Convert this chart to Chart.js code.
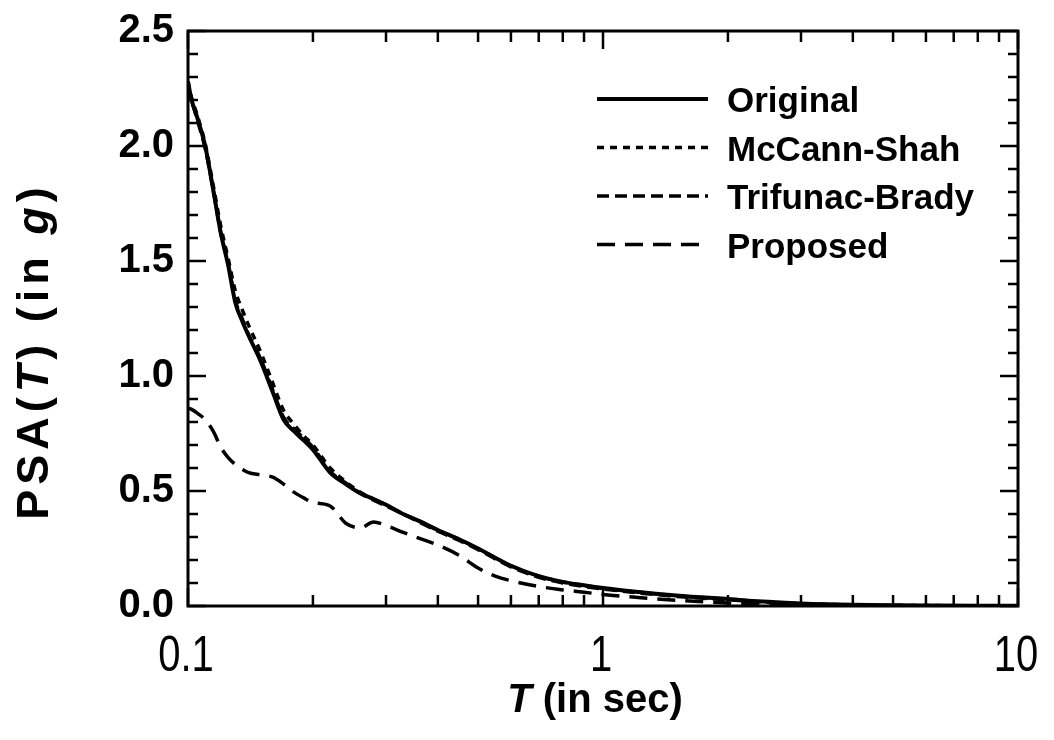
<!DOCTYPE html>
<html><head><meta charset="utf-8">
<script src="https://cdn.jsdelivr.net/npm/chart.js@4.4.1/dist/chart.umd.min.js"></script>
<style>html,body{margin:0;padding:0;background:#fff;overflow:hidden}#wrap{width:1054px;height:740px}</style>
</head><body><div id="wrap"><canvas id="c" width="1054" height="740"></canvas></div>
<script>
const periods = [0.1, 0.102, 0.105, 0.11, 0.115, 0.12, 0.125, 0.13, 0.135, 0.14, 0.15, 0.16, 0.17, 0.18, 0.19, 0.2, 0.22, 0.24, 0.26, 0.28, 0.3, 0.33, 0.36, 0.4, 0.45, 0.5, 0.55, 0.6, 0.7, 0.8, 0.9, 1.0, 1.2, 1.5, 2, 2.5, 3, 4, 5, 6, 8, 10];
const original = [2.28, 2.20, 2.13, 2.00, 1.81, 1.62, 1.48, 1.32, 1.24, 1.175, 1.06, 0.93, 0.81, 0.76, 0.72, 0.68, 0.58, 0.53, 0.49, 0.465, 0.44, 0.40, 0.37, 0.33, 0.29, 0.25, 0.21, 0.175, 0.13, 0.105, 0.09, 0.078, 0.062, 0.046, 0.03, 0.018, 0.011, 0.005, 0.003, 0.002, 0.001, 0.001];
const mccannShah = [2.28, 2.21, 2.14, 2.01, 1.83, 1.65, 1.51, 1.37, 1.29, 1.22, 1.10, 0.97, 0.85, 0.79, 0.74, 0.70, 0.60, 0.54, 0.495, 0.465, 0.44, 0.40, 0.37, 0.33, 0.29, 0.25, 0.21, 0.175, 0.13, 0.104, 0.089, 0.077, 0.061, 0.045, 0.029, 0.017, 0.010, 0.005, 0.003, 0.002, 0.001, 0.001];
const trifunacBrady = [2.26, 2.20, 2.12, 1.99, 1.81, 1.62, 1.49, 1.33, 1.25, 1.18, 1.07, 0.94, 0.82, 0.77, 0.73, 0.69, 0.585, 0.535, 0.49, 0.46, 0.435, 0.40, 0.365, 0.325, 0.285, 0.245, 0.205, 0.17, 0.125, 0.10, 0.085, 0.074, 0.058, 0.042, 0.027, 0.016, 0.009, 0.004, 0.002, 0.001, 0.001, 0.0];
const proposed = [0.86, 0.855, 0.84, 0.81, 0.76, 0.69, 0.645, 0.615, 0.595, 0.58, 0.57, 0.56, 0.53, 0.495, 0.47, 0.45, 0.435, 0.36, 0.34, 0.365, 0.35, 0.32, 0.295, 0.265, 0.22, 0.165, 0.13, 0.11, 0.085, 0.07, 0.06, 0.05, 0.038, 0.025, 0.013, 0.007, 0.004, 0.002, 0.001, 0.001, 0.001, 0.0];
const seriesLabels = ['Original', 'McCann-Shah', 'Trifunac-Brady', 'Proposed'];
const xMajorTicks = [0.1, 1, 10];
const xTickLabels = ['0.1', '1', '10'];
const xMinorTicks = [0.2, 0.3, 0.4, 0.5, 0.6, 0.7, 0.8, 0.9, 2, 3, 4, 5, 6, 7, 8, 9];
const yMajorTicks = [0, 0.5, 1.0, 1.5, 2.0, 2.5];
const yMinorTicks = [0.1, 0.2, 0.3, 0.4, 0.6, 0.7, 0.8, 0.9, 1.1, 1.2, 1.3, 1.4, 1.6, 1.7, 1.8, 1.9, 2.1, 2.2, 2.3, 2.4];
const xTitle = [['T', true], [' (in sec)', false]];
const yTitle = [['PSA(', false], ['T', true], [') (in ', false], ['g', true], [')', false]];

const toPts = arr => periods.map((t, i) => ({x: t, y: arr[i]}));
const dashes = [[], [7, 6], [12, 6], [18, 10]];
const widths = [4, 3.5, 3.5, 3.5];
const seriesData = [original, mccannShah, trifunacBrady, proposed];

const frameTicks = {
  id: 'frameTicks',
  afterDatasetsDraw(chart) {
    const ctx = chart.ctx, a = chart.chartArea;
    const xs = chart.scales.x, ys = chart.scales.y;
    ctx.save();
    ctx.strokeStyle = '#000';
    ctx.setLineDash([]);
    ctx.lineWidth = 2.5;
    ctx.beginPath();
    const tickY = (v, len) => {
      const p = ys.getPixelForValue(v);
      ctx.moveTo(a.left, p); ctx.lineTo(a.left + len, p);
      ctx.moveTo(a.right, p); ctx.lineTo(a.right - len, p);
    };
    const tickX = (v, len) => {
      const p = xs.getPixelForValue(v);
      ctx.moveTo(p, a.bottom); ctx.lineTo(p, a.bottom - len);
      ctx.moveTo(p, a.top); ctx.lineTo(p, a.top + len);
    };
    yMinorTicks.forEach(v => tickY(v, 10));
    yMajorTicks.forEach(v => tickY(v, 18));
    xMinorTicks.forEach(v => tickX(v, 11));
    xMajorTicks.forEach(v => tickX(v, 18));
    ctx.stroke();
    ctx.lineWidth = 3;
    ctx.strokeRect(a.left, a.top, a.right - a.left, a.bottom - a.top);
    ctx.restore();
  }
};

function drawSegs(ctx, segs, size, cx, baseY) {
  const fontOf = it => (it ? 'italic bold ' : 'bold ') + size + 'px "Liberation Sans", Arial, sans-serif';
  let total = 0;
  const w = segs.map(s => { ctx.font = fontOf(s[1]); const m = ctx.measureText(s[0]).width; total += m; return m; });
  let x = cx - total / 2;
  segs.forEach((s, i) => { ctx.font = fontOf(s[1]); ctx.fillText(s[0], x, baseY); x += w[i]; });
}

const titlesLegend = {
  id: 'titlesLegend',
  afterDraw(chart) {
    const ctx = chart.ctx, a = chart.chartArea;
    const xs = chart.scales.x;
    ctx.save();
    ctx.fillStyle = '#000';
    ctx.textAlign = 'left';
    ctx.textBaseline = 'alphabetic';
    // x tick labels (condensed)
    xMajorTicks.forEach((v, i) => {
      const p = xs.getPixelForValue(v);
      ctx.save();
      ctx.translate(p - 2, 671);
      ctx.scale(0.8, 1);
      ctx.textAlign = 'center';
      ctx.font = '50px "Liberation Sans", Arial, sans-serif';
      ctx.fillText(xTickLabels[i], 0, 0);
      ctx.restore();
    });
    // x title
    drawSegs(ctx, xTitle, 40, (a.left + a.right) / 2 - 8, 712);
    // y title
    ctx.save();
    ctx.translate(48, 351);
    ctx.rotate(-Math.PI / 2);
    try { ctx.letterSpacing = '5px'; } catch (e) {}
    drawSegs(ctx, yTitle, 45, 0, 0);
    try { ctx.letterSpacing = '0px'; } catch (e) {}
    ctx.restore();
    // legend
    const ds = chart.data.datasets;
    ds.forEach((d, i) => {
      const base = a.top + 81 + i * 48.5;
      const ly = base - 13;
      ctx.save();
      ctx.strokeStyle = '#000';
      ctx.lineWidth = d.borderWidth;
      ctx.setLineDash(d.borderDash || []);
      ctx.beginPath();
      ctx.moveTo(a.right - 421, ly);
      ctx.lineTo(a.right - 310, ly);
      ctx.stroke();
      ctx.restore();
      ctx.font = 'bold 35px "Liberation Sans", Arial, sans-serif';
      ctx.fillText(d.label, a.right - 291, base);
    });
    ctx.restore();
  }
};

new Chart(document.getElementById('c'), {
  type: 'line',
  data: {
    datasets: seriesLabels.map((lab, i) => ({
      label: lab,
      data: toPts(seriesData[i]),
      borderColor: '#000',
      backgroundColor: '#000',
      borderWidth: widths[i],
      borderDash: dashes[i],
      pointRadius: 0,
      fill: false,
      cubicInterpolationMode: 'monotone'
    }))
  },
  options: {
    responsive: false,
    animation: false,
    devicePixelRatio: 1,
    layout: {padding: {top: 31, right: 36, left: 0, bottom: 0}},
    plugins: {legend: {display: false}, tooltip: {enabled: false}},
    scales: {
      x: {
        type: 'logarithmic', min: 0.1, max: 10,
        border: {display: false},
        grid: {display: false, drawTicks: false},
        afterBuildTicks: s => { s.ticks = xMajorTicks.map(v => ({value: v})); },
        afterFit: s => { s.height = 134; s.paddingLeft = 0; s.paddingRight = 0; },
        ticks: {display: false, autoSkip: false, maxRotation: 0}
      },
      y: {
        type: 'linear', min: 0, max: 2.5,
        border: {display: false},
        grid: {display: false, drawTicks: false},
        afterBuildTicks: s => { s.ticks = yMajorTicks.map(v => ({value: v})); },
        afterFit: s => { s.width = 188; s.paddingTop = 0; s.paddingBottom = 0; },
        ticks: {
          padding: 14, color: '#000',
          font: {family: '"Liberation Sans", Arial, sans-serif', size: 40, weight: 'bold'},
          callback: v => Number(v).toFixed(1)
        }
      }
    }
  },
  plugins: [frameTicks, titlesLegend]
});
</script></body></html>
